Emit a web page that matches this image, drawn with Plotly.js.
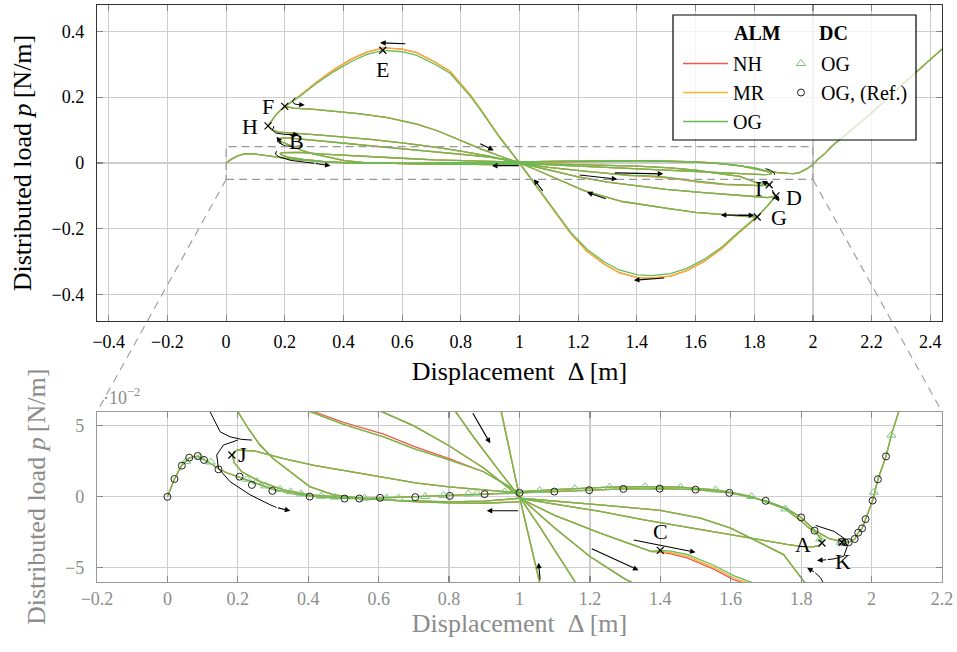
<!DOCTYPE html>
<html><head><meta charset="utf-8">
<script src="https://cdn.plot.ly/plotly-3.0.1.min.js"></script>
<style>html,body{margin:0;padding:0;background:#fff}#chart{width:957px;height:652px}</style>
</head><body><div id="chart"></div>
<script>
// ---------------- DATA ----------------
// primary path, left half (0 -> 1)
const pLx = [0,0.02,0.04,0.062,0.086,0.103,0.125,0.145,0.17,0.205,0.24,0.3,0.35,0.404,0.45,0.5,0.55,0.6,0.7,0.8,0.9,1.0];
const pLy = [0,0.0126,0.022,0.0274,0.0287,0.0265,0.0232,0.0198,0.0168,0.0138,0.0105,0.0052,0.0026,0.0006,-0.0004,-0.0011,-0.0012,-0.0008,-0.0001,0.0008,0.0019,0.0028];
// primary path, right half (1 -> end)
const pRx = [1.0,1.1,1.2,1.3,1.4,1.5,1.6,1.7,1.76,1.8,1.84,1.88,1.916,1.935,1.952,1.962,1.973,1.983,2.003,2.018,2.041,2.056,2.076,2.1,2.2,2.3,2.443];
const pRy = [0.0028,0.0037,0.0047,0.0056,0.0058,0.0051,0.0028,-0.0028,-0.0085,-0.0145,-0.0238,-0.0295,-0.0316,-0.032,-0.0297,-0.0252,-0.0222,-0.0157,-0.0026,0.0124,0.0285,0.0435,0.06,0.077,0.152,0.235,0.348];
// branch through A (lower)
const rAx = [1.0,1.1,1.229,1.35,1.514,1.6,1.703,1.76,1.798,1.83,1.85,1.859];
const rAy = [-0.001,-0.005,-0.0103,-0.016,-0.0231,-0.027,-0.0313,-0.0335,-0.0349,-0.0353,-0.0345,-0.0325];
// branch from A back (upper)
const rAux = [1.859,1.856,1.845,1.82,1.8,1.755,1.7,1.659,1.6,1.557,1.5,1.457,1.4,1.357,1.3,1.256,1.2,1.157,1.1,1.057,1.0];
const rAuy = [-0.0325,-0.0295,-0.026,-0.0215,-0.017,-0.0085,-0.0035,0.0002,0.0032,0.0049,0.006,0.0068,0.0071,0.0072,0.0071,0.0068,0.0063,0.0058,0.0051,0.0044,0.0036];
// loop through J
const jx = [1.0,0.897,0.8,0.709,0.6,0.52,0.42,0.33,0.25,0.2,0.19,0.185,0.19,0.211,0.263,0.33,0.404,0.5,0.6,0.7,0.8,0.9,1.0];
const jy = [0.0028,0.0049,0.007,0.0096,0.0145,0.0177,0.022,0.027,0.0322,0.033,0.0318,0.0285,0.024,0.0177,0.0107,0.0049,0.0014,-0.0005,-0.002,-0.0033,-0.0043,-0.0045,-0.0035];
// loop through B
const bx = [1.0,0.898,0.8,0.7,0.614,0.5,0.405,0.33,0.26,0.22,0.19,0.175,0.18,0.2,0.23,0.263,0.3,0.349,0.404,0.472,0.55,0.65,0.8,0.9,1.0];
const byOG = [0.003,0.0177,0.026,0.034,0.0423,0.051,0.06,0.067,0.073,0.0755,0.0755,0.0735,0.068,0.06,0.048,0.0365,0.027,0.0177,0.0072,0.0014,-0.001,-0.0025,-0.0035,-0.003,-0.001];
const byNH = [0.003,0.0177,0.027,0.0355,0.0442,0.0525,0.061,0.067,0.073,0.0755,0.0755,0.0735,0.068,0.06,0.048,0.0365,0.027,0.0177,0.0072,0.0014,-0.001,-0.0025,-0.0035,-0.003,-0.001];
// branch from H
const hx = [0.143,0.155,0.18,0.229,0.3,0.383,0.5,0.6,0.7,0.8,0.9,1.0];
const hy = [0.113,0.101,0.094,0.09,0.086,0.08,0.071,0.061,0.05,0.036,0.02,0.0];
// branch to D
const rhx = [1.0,1.1,1.2,1.3,1.4,1.5,1.617,1.7,1.77,1.846,1.874];
const rhy = [0.0,-0.022,-0.042,-0.058,-0.07,-0.08,-0.089,-0.095,-0.1,-0.105,-0.1];
// loop through C and I
const cx = [1.0,1.1,1.229,1.3,1.343,1.375,1.4,1.43,1.476,1.55,1.608,1.7,1.78,1.82,1.845,1.83,1.807,1.75,1.656,1.6,1.514,1.4,1.229,1.1,1.0];
const cyOG = [-0.001,-0.013,-0.0255,-0.032,-0.036,-0.0385,-0.0377,-0.0382,-0.0405,-0.048,-0.0555,-0.064,-0.068,-0.069,-0.067,-0.064,-0.0594,-0.0407,-0.029,-0.022,-0.015,-0.0095,-0.0056,-0.003,-0.001];
const cyMR = [-0.001,-0.013,-0.0255,-0.032,-0.036,-0.0385,-0.0385,-0.0393,-0.0418,-0.0495,-0.057,-0.065,-0.0685,-0.069,-0.067,-0.064,-0.0594,-0.0407,-0.029,-0.022,-0.015,-0.0095,-0.0056,-0.003,-0.001];
const cyNH = [-0.001,-0.013,-0.0255,-0.032,-0.036,-0.0385,-0.039,-0.0402,-0.043,-0.0508,-0.0583,-0.0658,-0.069,-0.069,-0.067,-0.064,-0.0594,-0.0407,-0.029,-0.022,-0.015,-0.0095,-0.0056,-0.003,-0.001];
// branch F -> G
const fx = [0.2,0.23,0.3,0.366,0.45,0.55,0.65,0.72,0.775,0.81,0.87,0.94,1.0,1.06,1.13,1.22,1.35,1.45,1.504,1.6,1.7,1.77,1.811];
const fy = [0.172,0.167,0.163,0.158,0.15,0.138,0.118,0.098,0.078,0.063,0.042,0.019,0.0,-0.022,-0.05,-0.084,-0.117,-0.132,-0.138,-0.15,-0.158,-0.162,-0.164];
// large S-shaped branch H -> E -> (1,0) -> trough -> D
const sx = [0.143,0.17,0.2,0.252,0.31,0.366,0.43,0.48,0.536,0.6,0.65,0.712,0.764,0.832,0.866,0.93,1.0,1.06,1.12,1.174,1.23,1.288,1.34,1.402,1.45,1.515,1.57,1.629,1.69,1.743,1.81,1.845,1.874];
const syOG = [0.113,0.147,0.172,0.203,0.243,0.277,0.31,0.33,0.342,0.338,0.327,0.3,0.272,0.203,0.162,0.08,0.0,-0.071,-0.145,-0.21,-0.262,-0.3,-0.325,-0.34,-0.342,-0.336,-0.32,-0.293,-0.255,-0.213,-0.162,-0.13,-0.1];
const syAlt = [0.113,0.147,0.172,0.205,0.247,0.283,0.317,0.337,0.35,0.346,0.335,0.307,0.278,0.207,0.165,0.082,0.0,-0.073,-0.148,-0.214,-0.268,-0.307,-0.333,-0.348,-0.35,-0.344,-0.327,-0.299,-0.26,-0.216,-0.164,-0.131,-0.1];

// DC markers
const dcOGx = [0.053,0.093,0.123,0.226,0.254,0.278,0.32,0.35,0.38,0.437,0.475,0.56,0.623,0.657,0.732,0.784,0.855,0.879,0.958,1.057,1.157,1.256,1.357,1.457,1.557,1.659,1.755,1.854,1.912,2.006,2.056];
const dcOGy = [0.025,0.0278,0.0245,0.0124,0.0107,0.0077,0.0052,0.0036,0.0021,0.0004,-0.0002,-0.0009,-0.0009,-0.0009,0.0002,0.0009,0.0021,0.0026,0.0035,0.0044,0.0058,0.0068,0.0072,0.0068,0.0049,0.0002,-0.0085,-0.0297,-0.032,0.0033,0.0435];
const refX = [0,0.02,0.041,0.062,0.086,0.104,0.145,0.205,0.24,0.298,0.404,0.503,0.545,0.604,0.704,0.802,0.901,1.0,1.099,1.198,1.295,1.398,1.5,1.596,1.699,1.8,1.838,1.916,1.925,1.935,1.952,1.962,1.973,1.983,2.003,2.018,2.041];
const refY = [0,0.0126,0.022,0.0276,0.0288,0.026,0.0194,0.0142,0.0084,0.0042,0.0002,-0.0012,-0.0012,-0.0007,-0.0002,0.0007,0.0019,0.0028,0.0037,0.0047,0.0056,0.0058,0.0051,0.0028,-0.0028,-0.0145,-0.0238,-0.0316,-0.032,-0.032,-0.0297,-0.0252,-0.0222,-0.0157,-0.0026,0.0124,0.0285];

// point labels
const topLabels = ['E','F','H','B','G','D','I'];
const topLabX = [0.534,0.143,0.081,0.24,1.885,1.935,1.815];
const topLabY = [0.284,0.172,0.111,0.066,-0.167,-0.106,-0.076];
const topCrossX = [0.534,0.2,0.143,1.81,1.874,1.851];
const topCrossY = [0.3425,0.172,0.113,-0.164,-0.1,-0.066];
const botLabels = ['J','C','A','K'];
const botLabX = [0.213,1.4,1.805,1.918];
const botLabY = [0.0295,-0.0245,-0.0337,-0.0454];
const botCrossX = [0.183,1.4,1.859,1.916];
const botCrossY = [0.0295,-0.0377,-0.0325,-0.032];

// direction arrows (head, tail) top axes
const tArrHX = [0.525,1.39,0.912,0.906,1.049,1.23,1.333,1.49,1.686,1.885,1.825,0.268,0.248,0.172,0.356];
const tArrHY = [0.365,-0.356,0.038,-0.008,-0.049,-0.089,-0.049,-0.033,-0.158,-0.117,-0.055,0.176,0.086,0.08,-0.008];
const tArrTX = [0.616,1.498,0.861,1.003,1.083,1.299,1.2,1.32,1.8,1.858,1.862,0.24,0.22,0.19,0.3];
const tArrTY = [0.362,-0.349,0.061,-0.008,-0.089,-0.11,-0.036,-0.03,-0.159,-0.078,-0.07,0.178,0.087,0.058,-0.001];
// curved arrow shafts, top axes
const tCurves = [
  [[0.235,0.226,0.232,0.245],[0.198,0.188,0.18,0.177]],
  [[0.163,0.158,0.17,0.2,0.225],[0.112,0.1,0.091,0.087,0.086]],
  [[0.262,0.23,0.2,0.18,0.19],[0.052,0.05,0.052,0.062,0.058]],
  [[0.172,0.168,0.18,0.22,0.3],[0.036,0.027,0.019,0.008,-0.001]],
  [[1.838,1.855,1.868,1.87],[-0.017,-0.022,-0.03,-0.036]]
];
// bottom axes arrows
const bArrHX = [0.349,0.917,0.907,1.5,1.338,1.054,1.845,1.817];
const bArrHY = [-0.0098,0.0377,-0.0098,-0.039,-0.0517,-0.0465,-0.0449,-0.050];
const bArrTX = [0.31,0.865,1.0,1.32,1.201,1.059,1.875,1.84];
const bArrTY = [-0.0075,0.06,-0.0098,-0.0302,-0.036,-0.0594,-0.0442,-0.0535];
const bCurves = [
  [[0.121,0.15,0.178,0.21,0.24],[0.06,0.0458,0.0423,0.0405,0.04]],
  [[0.2,0.159,0.14,0.145,0.178,0.235,0.292,0.31],[0.04,0.0365,0.0295,0.02,0.0107,0.0014,-0.0056,-0.0075]],
  [[1.841,1.893,1.921,1.931,1.921,1.893,1.875],[-0.0201,-0.0243,-0.029,-0.0349,-0.0419,-0.0437,-0.0442]],
  [[1.866,1.855,1.84],[-0.062,-0.057,-0.0535]]
];

// ---------------- LAYOUT CONSTANTS ----------------
const FONT = "'Liberation Serif', 'Times New Roman', serif";
const GREY = '#8c8c8c';
const ML = 97, MR = 15, MT = 5, MB = 70, W = 957, H = 652;
const PW = W - ML - MR, PH = H - MT - MB;
const topDom = [(H - MB - 321) / PH, 1];
const botDom = [0, (H - MB - 411.7) / PH];
const xr1 = [-0.44, 2.44], yr1 = [-0.48, 0.48];
const xr2 = [-0.2, 2.2], yr2 = [-0.06, 0.06];
const px = (xpx) => (xpx - ML) / PW;
const py = (ypx) => (H - MB - ypx) / PH;
const toPaperX = v => (v - xr1[0]) / (xr1[1] - xr1[0]);
const toPaperY = v => topDom[0] + (v - yr1[0]) / (yr1[1] - yr1[0]) * (topDom[1] - topDom[0]);

function join(segs) {
  const x = [], y = [];
  segs.forEach((s, i) => { if (i) { x.push(null); y.push(null); } x.push(...s[0]); y.push(...s[1]); });
  return [x, y];
}
const common = [[pLx,pLy],[pRx,pRy],[rAx,rAy],[rAux,rAuy],[jx,jy],[hx,hy],[rhx,rhy],[fx,fy]];
const series = [
  {name:'NH', color:'#ee5a4f', segs: common.concat([[bx,byNH],[cx,cyNH],[sx,syAlt]])},
  {name:'MR', color:'#f9b233', segs: common.concat([[bx,byOG],[cx,cyMR],[sx,syAlt]])},
  {name:'OG', color:'#66bb55', segs: common.concat([[bx,byOG],[cx,cyOG],[sx,syOG]])}
];

const traces = [];
series.forEach(s => {
  const [x, y] = join(s.segs);
  traces.push({x, y, type:'scatter', mode:'lines', name:s.name, legend:'legend',
    line:{color:s.color, width:1.3}, xaxis:'x', yaxis:'y', hoverinfo:'skip'});
  traces.push({x, y, type:'scatter', mode:'lines', name:s.name, showlegend:false,
    line:{color:s.color, width:1.3}, xaxis:'x2', yaxis:'y2', hoverinfo:'skip'});
});
traces.push({x:dcOGx, y:dcOGy, type:'scatter', mode:'markers', name:'OG', legend:'legend2',
  marker:{symbol:'triangle-up-open', size:8, color:'#7cc47c', line:{width:1}}, xaxis:'x2', yaxis:'y2'});
traces.push({x:refX, y:refY, type:'scatter', mode:'markers', name:'OG, (Ref.)', legend:'legend2',
  marker:{symbol:'circle-open', size:7, color:'#222', line:{width:1}}, xaxis:'x2', yaxis:'y2'});
tCurves.forEach(c => traces.push({x:c[0], y:c[1], type:'scatter', mode:'lines', showlegend:false,
  line:{color:'#000', width:1}, xaxis:'x', yaxis:'y', hoverinfo:'skip'}));
bCurves.forEach(c => traces.push({x:c[0], y:c[1], type:'scatter', mode:'lines', showlegend:false,
  line:{color:'#000', width:1}, xaxis:'x2', yaxis:'y2', hoverinfo:'skip'}));
traces.push({x:topCrossX, y:topCrossY, type:'scatter', mode:'markers', showlegend:false,
  marker:{symbol:'x-thin-open', size:7, color:'#000', line:{width:1.2}}, xaxis:'x', yaxis:'y'});
traces.push({x:botCrossX, y:botCrossY, type:'scatter', mode:'markers', showlegend:false,
  marker:{symbol:'x-thin-open', size:7, color:'#000', line:{width:1.2}}, xaxis:'x2', yaxis:'y2'});

const annotations = [];
function arrow(hx_, hy_, tx, ty, xa, ya) {
  return {x:hx_, y:hy_, ax:tx, ay:ty, xref:xa, yref:ya, axref:xa, ayref:ya, text:'',
    showarrow:true, arrowhead:2, arrowsize:1, arrowwidth:1.1, arrowcolor:'#000', standoff:0, startstandoff:0};
}
tArrHX.forEach((v,i) => annotations.push(arrow(v, tArrHY[i], tArrTX[i], tArrTY[i], 'x', 'y')));
annotations.push(arrow(1.8, -0.159, 1.74, -0.159, 'x', 'y'));
bArrHX.forEach((v,i) => annotations.push(arrow(v, bArrHY[i], bArrTX[i], bArrTY[i], 'x2', 'y2')));
topLabels.forEach((t,i) => annotations.push({x:topLabX[i], y:topLabY[i], xref:'x', yref:'y', text:t,
  showarrow:false, font:{family:FONT, size:22, color:'#000'}}));
botLabels.forEach((t,i) => annotations.push({x:botLabX[i], y:botLabY[i], xref:'x2', yref:'y2', text:t,
  showarrow:false, font:{family:FONT, size:22, color:'#000'}}));
annotations.push({x:px(757), y:py(33), xref:'paper', yref:'paper', xanchor:'center', yanchor:'middle',
  text:'<b>ALM</b>', showarrow:false, font:{family:FONT, size:20, color:'#000'}});
annotations.push({x:px(833), y:py(33), xref:'paper', yref:'paper', xanchor:'center', yanchor:'middle',
  text:'<b>DC</b>', showarrow:false, font:{family:FONT, size:20, color:'#000'}});
annotations.push({x:px(101), y:py(410), xref:'paper', yref:'paper', xanchor:'left', yanchor:'bottom',
  text:'·10<sup>−2</sup>', showarrow:false, font:{family:FONT, size:18, color:GREY}});

const shapes = [
  {type:'rect', xref:'x', yref:'y', x0:0, x1:2, y0:-0.05, y1:0.05, line:{color:'#999', width:1.2, dash:'8px,5px'}},
  {type:'line', xref:'paper', yref:'paper', x0:toPaperX(0), y0:toPaperY(-0.05), x1:0, y1:botDom[1],
    line:{color:'#999', width:1.1, dash:'8px,6px'}},
  {type:'line', xref:'paper', yref:'paper', x0:toPaperX(2), y0:toPaperY(-0.05), x1:1, y1:botDom[1],
    line:{color:'#999', width:1.1, dash:'8px,6px'}},
  {type:'rect', xref:'paper', yref:'paper', x0:px(673), x1:px(916), y0:py(140), y1:py(15),
    line:{color:'#000', width:1.2}, fillcolor:'rgba(255,255,255,0.75)', layer:'above'}
];

function axisStyle(color, lineColor) {
  return {showline:true, linecolor:lineColor, linewidth:1.2, mirror:'ticks', ticks:'inside', ticklen:6,
    tickcolor:'#888', tickwidth:1.2, showgrid:true, gridcolor:'#cdcdcd', gridwidth:1.2, zeroline:false,
    tickfont:{family:FONT, size:18, color:color}};
}
const layout = {
  width:W, height:H, margin:{l:ML, r:MR, t:MT, b:MB}, paper_bgcolor:'#fff', plot_bgcolor:'#fff',
  showlegend:true, hovermode:false,
  xaxis: Object.assign(axisStyle('#000', '#333'), {domain:[0,1], range:xr1, anchor:'y', dtick:0.2, tick0:0,
    ticklabelstandoff:4,
    title:{text:'Displacement\u2002Δ\u2009[m]', font:{family:FONT, size:26, color:'#000'}, standoff:11}}),
  yaxis: Object.assign(axisStyle('#000', '#333'), {domain:topDom, range:yr1, anchor:'x', dtick:0.2, tick0:0,
    ticklabelstandoff:8,
    title:{text:'Distributed load <i>p</i>\u2009[N/m]', font:{family:FONT, size:26, color:'#000'}, standoff:12}}),
  xaxis2: Object.assign(axisStyle(GREY, '#999'), {domain:[0,1], range:xr2, anchor:'y2', dtick:0.2, tick0:0,
    ticklabelstandoff:0,
    title:{text:'Displacement\u2002Δ\u2009[m]', font:{family:FONT, size:26, color:GREY}, standoff:4}}),
  yaxis2: Object.assign(axisStyle(GREY, '#999'), {domain:botDom, range:yr2, anchor:'x2',
    tickmode:'array', tickvals:[-0.05,0,0.05], ticktext:['−5','0','5'], ticklabelstandoff:8,
    title:{text:'Distributed load <i>p</i>\u2009[N/m]', font:{family:FONT, size:26, color:GREY}, standoff:12}}),
  legend: {x:px(678), xanchor:'left', y:py(44), yanchor:'top', bgcolor:'rgba(0,0,0,0)', borderwidth:0,
    font:{family:FONT, size:20, color:'#000'}, itemwidth:45, traceorder:'normal'},
  legend2: {x:px(781), xanchor:'left', y:py(44), yanchor:'top', bgcolor:'rgba(0,0,0,0)', borderwidth:0,
    font:{family:FONT, size:20, color:'#000'}, itemwidth:30, traceorder:'normal'},
  shapes, annotations
};
Plotly.newPlot('chart', traces, layout, {staticPlot:true, displayModeBar:false});
</script></body></html>
